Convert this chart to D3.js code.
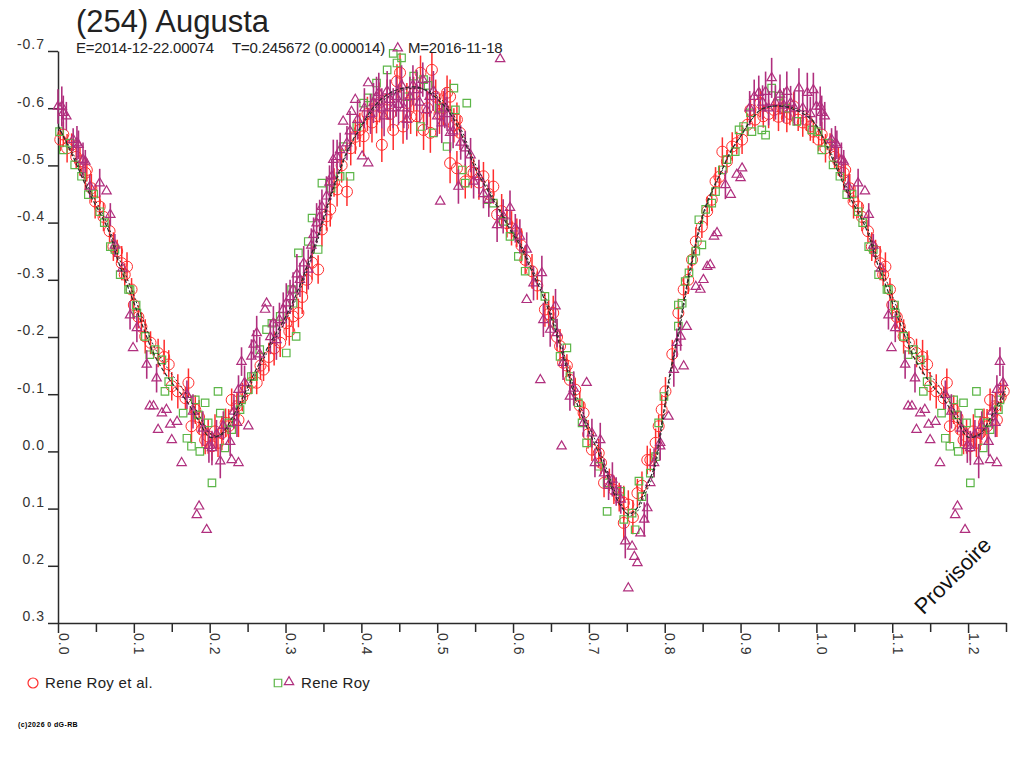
<!DOCTYPE html>
<html>
<head>
<meta charset="utf-8">
<script src="https://cdn.jsdelivr.net/npm/d3@7"></script>
<style>
  body { margin: 0; background: #fff; }
  svg { display: block; font-family: "Liberation Sans", Arial, sans-serif; }
</style>
</head>
<body>
<div id="chart"></div>
<script>
// Fourier fit of the lightcurve (phase 0..1, repeated past 1)
const fitPhase = [0, .02, .04, .066, .08, .097, .11, .128, .15, .1675, .185, .2, .215, .23, .242, .26, .28, .30, .319, .33,
  .341, .355, .368, .383, .398, .418, .438, .455, .473, .49, .508, .52, .535, .55, .565, .579, .595, .61, .623, .636,
  .65, .662, .673, .684, .698, .711, .722, .733, .742, .752, .763, .773, .785, .795, .807, .818, .834, .851, .862, .873,
  .887, .90, .913, .926, .94, .957, .972, .988];
const fitMag = [-0.570, -0.515, -0.455, -0.388, -0.33, -0.271, -0.225, -0.166, -0.12, -0.092, -0.055, -0.025, -0.03, -0.06, -0.09, -0.14, -0.19, -0.235, -0.29, -0.33,
  -0.37, -0.43, -0.48, -0.53, -0.565, -0.605, -0.627, -0.635, -0.637, -0.627, -0.606, -0.585, -0.545, -0.495, -0.46, -0.428, -0.39, -0.358, -0.32, -0.283,
  -0.235, -0.184, -0.135, -0.085, -0.04, -0.003, 0.035, 0.073, 0.095, 0.110, 0.100, 0.07, 0.032, -0.04, -0.137, -0.21, -0.323, -0.417, -0.455, -0.485,
  -0.525, -0.551, -0.578, -0.597, -0.603, -0.603, -0.597, -0.586];
const fitMagAlt = [-0.568, -0.520, -0.462, -0.395, -0.34, -0.283, -0.238, -0.180, -0.135, -0.104, -0.066, -0.032, -0.028, -0.052, -0.082, -0.133, -0.183, -0.228, -0.282, -0.322,
  -0.363, -0.424, -0.476, -0.527, -0.563, -0.600, -0.622, -0.632, -0.635, -0.630, -0.612, -0.592, -0.553, -0.503, -0.466, -0.432, -0.394, -0.363, -0.326, -0.290,
  -0.243, -0.193, -0.145, -0.095, -0.05, -0.012, 0.026, 0.066, 0.090, 0.112, 0.106, 0.078, 0.040, -0.03, -0.128, -0.202, -0.316, -0.412, -0.452, -0.483,
  -0.523, -0.550, -0.577, -0.596, -0.603, -0.604, -0.600, -0.590];

// Rene Roy et al. : [phase, mag, error]
const royEtAl = [
  [0.003,-0.545,0.02],[0.007,-0.554,0.022],[0.012,-0.53,0.025],[0.018,-0.536,0.02],[0.024,-0.515,0.02],[0.029,-0.507,0.025],
  [0.036,-0.487,0.03],[0.038,-0.492,0.02],[0.044,-0.46,0.025],[0.049,-0.437,0.03],[0.055,-0.428,0.02],[0.060,-0.41,0.025],
  [0.068,-0.385,0.02],[0.073,-0.358,0.025],[0.078,-0.35,0.02],[0.084,-0.329,0.03],[0.088,-0.309,0.02],[0.091,-0.323,0.025],
  [0.097,-0.283,0.02],[0.100,-0.256,0.025],
  [0.106,-0.235,0.02],[0.110,-0.218,0.025],[0.115,-0.201,0.03],[0.122,-0.19,0.02],[0.132,-0.172,0.025],[0.140,-0.165,0.03],
  [0.146,-0.152,0.025],[0.150,-0.114,0.025],[0.158,-0.105,0.03],[0.168,-0.093,0.02],[0.172,-0.12,0.025],[0.176,-0.044,0.03],
  [0.181,-0.073,0.025],[0.186,-0.06,0.03],[0.190,-0.038,0.03],[0.194,-0.02,0.025],[0.198,-0.026,0.03],[0.203,-0.009,0.025],
  [0.207,-0.035,0.03],[0.211,-0.015,0.025],[0.216,-0.032,0.03],[0.221,-0.05,0.025],[0.225,-0.044,0.03],[0.229,-0.09,0.02],
  [0.232,-0.065,0.025],[0.236,-0.079,0.025],[0.238,-0.055,0.03],[0.243,-0.095,0.025],[0.247,-0.105,0.02],[0.255,-0.12,0.02],
  [0.262,-0.12,0.02],[0.267,-0.15,0.025],[0.271,-0.143,0.02],[0.278,-0.165,0.025],[0.285,-0.18,0.03],[0.293,-0.19,0.025],
  [0.301,-0.224,0.03],[0.305,-0.21,0.025],[0.310,-0.236,0.03],[0.317,-0.242,0.025],[0.322,-0.27,0.03],[0.328,-0.3,0.025],
  [0.335,-0.33,0.03],[0.343,-0.318,0.025],[0.348,-0.388,0.03],[0.354,-0.411,0.025],[0.359,-0.423,0.03],[0.364,-0.47,0.025],
  [0.368,-0.458,0.03],[0.374,-0.5,0.03],[0.381,-0.454,0.025],[0.386,-0.53,0.03],[0.392,-0.55,0.03],[0.398,-0.562,0.03],
  [0.403,-0.551,0.035],[0.408,-0.59,0.03],[0.414,-0.575,0.035],[0.420,-0.586,0.03],[0.424,-0.61,0.035],[0.427,-0.536,0.03],
  [0.434,-0.615,0.035],[0.438,-0.59,0.03],[0.442,-0.562,0.035],[0.447,-0.647,0.03],[0.451,-0.662,0.035],[0.455,-0.568,0.03],
  [0.460,-0.609,0.035],[0.465,-0.585,0.03],[0.469,-0.625,0.03],[0.473,-0.586,0.035],[0.478,-0.662,0.03],[0.482,-0.562,0.035],
  [0.487,-0.6,0.03],[0.491,-0.557,0.035],[0.493,-0.667,0.03],[0.498,-0.62,0.03],[0.503,-0.59,0.035],[0.508,-0.6,0.03],
  [0.513,-0.627,0.03],[0.517,-0.504,0.035],[0.517,-0.62,0.03],[0.522,-0.57,0.03],[0.526,-0.58,0.03],[0.526,-0.495,0.03],
  [0.530,-0.557,0.03],[0.537,-0.472,0.03],
  [0.545,-0.49,0.03],[0.548,-0.487,0.025],[0.555,-0.47,0.03],[0.561,-0.481,0.025],[0.568,-0.45,0.025],[0.574,-0.463,0.03],
  [0.579,-0.414,0.025],[0.585,-0.42,0.03],[0.592,-0.399,0.025],[0.598,-0.39,0.03],[0.605,-0.382,0.025],[0.611,-0.36,0.03],
  [0.616,-0.335,0.025],[0.625,-0.315,0.03],[0.632,-0.29,0.025],[0.642,-0.248,0.03],[0.647,-0.24,0.025],[0.653,-0.242,0.03],
  [0.658,-0.2,0.025],[0.662,-0.184,0.03],[0.666,-0.155,0.025],[0.671,-0.15,0.02],[0.675,-0.125,0.025],[0.682,-0.108,0.02],
  [0.688,-0.08,0.025],[0.693,-0.067,0.02],[0.699,-0.03,0.025],[0.704,-0.003,0.02],[0.713,0.003,0.025],[0.716,0.02,0.02],
  [0.720,0.055,0.025],[0.727,0.05,0.02],[0.733,0.067,0.025],[0.740,0.08,0.025],[0.746,0.09,0.03],[0.746,0.125,0.03],
  [0.752,0.093,0.025],[0.758,0.115,0.03],[0.764,0.073,0.025],[0.770,0.06,0.025],[0.777,0.015,0.025],[0.781,0.015,0.02],
  [0.788,-0.015,0.025],[0.792,-0.044,0.02],[0.796,-0.073,0.025],[0.801,-0.105,0.025],
  [0.810,-0.17,0.025],[0.818,-0.242,0.025],[0.825,-0.283,0.02],[0.831,-0.3,0.025],[0.836,-0.335,0.02],[0.841,-0.367,0.025],
  [0.849,-0.393,0.02],[0.856,-0.42,0.025],[0.862,-0.44,0.02],[0.867,-0.472,0.025],[0.872,-0.48,0.02],[0.876,-0.524,0.025],
  [0.882,-0.507,0.02],[0.889,-0.533,0.025],[0.895,-0.539,0.02],[0.902,-0.545,0.025],[0.909,-0.571,0.02],[0.913,-0.597,0.025],
  [0.919,-0.58,0.02],[0.926,-0.609,0.025],[0.930,-0.586,0.02],[0.937,-0.59,0.025],[0.944,-0.597,0.02],[0.950,-0.585,0.025],
  [0.955,-0.6,0.02],[0.961,-0.583,0.025],[0.965,-0.59,0.02],[0.970,-0.603,0.025],[0.976,-0.58,0.02],[0.982,-0.575,0.025],
  [0.987,-0.58,0.02],[0.992,-0.568,0.025],[0.996,-0.559,0.02]
];

// Rene Roy, first session (squares) : [phase, mag]
const roySquares = [
  [0.002,-0.559],[0.007,-0.527],[0.016,-0.539],[0.022,-0.501],[0.031,-0.481],[0.040,-0.449],[0.047,-0.45],[0.055,-0.419],
  [0.061,-0.40],[0.069,-0.358],[0.075,-0.353],[0.082,-0.309],[0.093,-0.283],[0.095,-0.283],[0.103,-0.256],
  [0.104,-0.242],[0.115,-0.201],[0.121,-0.169],[0.128,-0.178],[0.137,-0.16],[0.141,-0.105],[0.146,-0.122],[0.165,-0.067],
  [0.170,-0.023],[0.176,-0.009],[0.181,-0.09],[0.185,-0.064],[0.187,0.0],[0.194,-0.085],[0.198,-0.05],[0.203,0.055],
  [0.211,-0.105],[0.214,-0.067],[0.220,-0.006],[0.225,-0.05],[0.229,-0.038],[0.240,-0.073],[0.242,-0.09],[0.251,-0.108],
  [0.255,-0.131],
  [0.258,-0.131],[0.266,-0.178],[0.275,-0.213],[0.282,-0.224],[0.293,-0.236],[0.301,-0.172],[0.308,-0.283],[0.310,-0.259],
  [0.314,-0.201],[0.317,-0.347],[0.330,-0.367],[0.335,-0.408],[0.343,-0.353],[0.348,-0.469],[0.360,-0.46],[0.372,-0.481],
  [0.376,-0.533],[0.385,-0.481],[0.394,-0.568],[0.403,-0.609],[0.409,-0.618],[0.420,-0.644],[0.434,-0.667],[0.442,-0.696],
  [0.447,-0.679],[0.453,-0.688],[0.460,-0.62],[0.469,-0.656],[0.478,-0.568],[0.482,-0.65],[0.488,-0.64],[0.495,-0.557],
  [0.503,-0.6],[0.513,-0.533],[0.522,-0.635],[0.524,-0.597],[0.533,-0.492],[0.537,-0.469],[0.539,-0.609],
  [0.566,-0.44],[0.574,-0.434],[0.587,-0.402],[0.596,-0.376],[0.607,-0.341],[0.616,-0.315],[0.642,-0.271],[0.653,-0.224],
  [0.662,-0.166],[0.671,-0.181],[0.675,-0.131],[0.686,-0.085],[0.691,-0.05],[0.697,-0.015],[0.713,0.026],[0.724,0.055],
  [0.724,0.105],[0.742,0.07],[0.746,0.119],[0.757,0.108],[0.761,0.137],[0.766,0.052],[0.770,0.079],[0.781,0.038],
  [0.788,0.009],[0.792,-0.05],[0.799,-0.096],
  [0.818,-0.219],[0.818,-0.256],[0.823,-0.259],[0.827,-0.297],[0.832,-0.312],[0.836,-0.335],[0.841,-0.35],[0.845,-0.405],
  [0.849,-0.361],[0.854,-0.423],[0.862,-0.434],[0.867,-0.454],[0.876,-0.492],[0.882,-0.51],[0.893,-0.524],[0.898,-0.562],
  [0.904,-0.568],[0.913,-0.592],[0.915,-0.559],[0.928,-0.562],[0.933,-0.553],[0.941,-0.635],[0.950,-0.621],[0.961,-0.6],
  [0.974,-0.577],[0.994,-0.562]
];

// Rene Roy, second session (triangles) : [phase, mag, error] (0 = no bar)
const royTriangles = [
  [0.000,-0.603,0.03],[0.005,-0.603,0.035],[0.007,-0.592,0.03],[0.011,-0.586,0.025],[0.020,-0.545,0.02],[0.025,-0.539,0.03],
  [0.027,-0.536,0.025],[0.033,-0.51,0.03],[0.036,-0.507,0.02],[0.042,-0.463,0.02],[0.055,-0.469,0.025],[0.064,-0.455,0],
  [0.069,-0.414,0.02],[0.075,-0.36,0.02],[0.085,-0.32,0],[0.095,-0.238,0.025],
  [0.099,-0.181,0],[0.104,-0.216,0.025],[0.117,-0.152,0.025],[0.121,-0.079,0],[0.126,-0.079,0],[0.130,-0.128,0.025],
  [0.132,-0.038,0],[0.137,-0.067,0],[0.143,-0.073,0],[0.148,-0.047,0],[0.150,-0.02,0],[0.157,-0.052,0],[0.163,0.02,0],
  [0.170,-0.099,0.025],[0.178,-0.07,0.03],[0.183,0.111,0],[0.186,0.096,0],[0.191,-0.04,0.03],[0.196,0.137,0],
  [0.199,-0.01,0.03],[0.203,-0.006,0.03],[0.209,-0.03,0.025],[0.214,0.017,0.03],[0.218,-0.045,0.025],[0.227,-0.017,0.025],
  [0.229,0.015,0],[0.232,-0.07,0.03],[0.236,-0.05,0.025],[0.238,0.02,0],[0.238,-0.108,0.025],[0.242,-0.157,0.025],
  [0.246,-0.12,0.03],[0.251,-0.044,0],[0.255,-0.166,0.03],[0.258,-0.187,0.025],
  [0.262,-0.207,0.03],[0.266,-0.17,0.03],[0.273,-0.248,0],[0.275,-0.259,0],[0.280,-0.2,0.03],[0.284,-0.224,0.03],
  [0.288,-0.195,0.035],[0.292,-0.23,0.03],[0.297,-0.248,0.03],[0.301,-0.259,0.035],[0.306,-0.27,0.03],[0.310,-0.283,0.03],
  [0.315,-0.31,0.035],[0.319,-0.30,0.03],[0.324,-0.329,0.03],[0.330,-0.318,0.035],[0.334,-0.36,0.03],[0.337,-0.379,0.03],
  [0.341,-0.399,0.035],[0.345,-0.41,0.03],[0.348,-0.428,0.03],[0.354,-0.446,0.035],[0.358,-0.47,0.03],[0.361,-0.481,0.03],
  [0.363,-0.51,0.035],[0.368,-0.515,0.03],[0.372,-0.527,0.03],[0.376,-0.577,0],[0.381,-0.539,0.03],[0.385,-0.56,0.035],
  [0.387,-0.594,0],[0.392,-0.615,0],[0.395,-0.58,0.035],[0.401,-0.516,0],[0.404,-0.6,0.035],[0.409,-0.644,0],
  [0.409,-0.504,0],[0.412,-0.59,0.035],[0.416,-0.609,0.035],[0.420,-0.62,0.035],[0.423,-0.627,0.035],[0.427,-0.6,0.035],
  [0.430,-0.586,0.035],[0.434,-0.63,0.035],[0.438,-0.615,0.035],[0.442,-0.6,0.035],[0.446,-0.62,0.035],[0.448,-0.705,0],
  [0.449,-0.606,0.035],[0.453,-0.64,0.035],[0.456,-0.6,0.035],[0.460,-0.58,0.035],[0.464,-0.62,0.035],[0.468,-0.64,0.035],
  [0.473,-0.632,0.035],[0.477,-0.61,0.035],[0.481,-0.65,0.03],[0.486,-0.597,0.035],[0.490,-0.62,0.035],[0.495,-0.63,0.035],
  [0.500,-0.586,0.035],[0.504,-0.437,0],[0.506,-0.574,0.035],[0.510,-0.6,0.035],[0.513,-0.59,0.03],[0.517,-0.557,0.035],
  [0.521,-0.56,0.03],[0.528,-0.463,0.03],[0.531,-0.54,0.03],
  [0.537,-0.53,0.03],[0.544,-0.518,0.03],[0.548,-0.472,0.03],[0.555,-0.48,0.03],[0.561,-0.45,0.025],[0.568,-0.44,0.03],
  [0.579,-0.396,0.03],[0.583,-0.686,0],[0.587,-0.411,0.03],[0.596,-0.426,0.03],[0.603,-0.39,0.025],[0.609,-0.376,0.03],
  [0.618,-0.353,0.03],[0.618,-0.265,0],[0.627,-0.294,0.03],[0.636,-0.125,0],[0.638,-0.312,0.03],[0.640,-0.23,0.03],
  [0.649,-0.213,0.03],[0.656,-0.254,0.03],[0.658,-0.207,0.025],[0.664,-0.009,0],[0.666,-0.155,0.03],[0.675,-0.096,0.025],
  [0.680,-0.11,0.03],[0.693,-0.05,0.025],[0.697,-0.12,0],[0.704,-0.032,0.025],[0.708,0.02,0.025],[0.715,-0.02,0.03],
  [0.720,0.038,0.025],[0.726,0.06,0.025],[0.731,0.049,0.03],[0.736,0.07,0.025],[0.742,0.084,0.025],[0.748,0.157,0.03],
  [0.752,0.239,0],[0.757,0.166,0],[0.760,0.184,0],[0.764,0.195,0],[0.768,0.143,0],[0.773,0.119,0.03],[0.777,0.099,0.025],
  [0.781,0.055,0],[0.786,0.02,0.025],[0.794,-0.009,0.025],[0.794,-0.015,0],[0.805,-0.061,0],
  [0.812,-0.143,0.03],[0.816,-0.19,0.025],[0.821,-0.201,0.025],[0.825,-0.149,0],[0.829,-0.218,0],[0.841,-0.288,0],
  [0.847,-0.283,0],[0.851,-0.30,0],[0.856,-0.323,0],[0.860,-0.326,0],[0.865,-0.376,0],[0.869,-0.382,0],[0.880,-0.466,0.025],
  [0.887,-0.449,0],[0.895,-0.484,0],[0.900,-0.478,0],[0.902,-0.495,0],[0.912,-0.6,0.03],[0.918,-0.62,0.03],[0.924,-0.627,0.03],
  [0.929,-0.61,0.03],[0.933,-0.629,0.035],[0.937,-0.6,0.03],[0.941,-0.653,0.035],[0.946,-0.61,0.03],[0.952,-0.624,0.035],
  [0.957,-0.605,0.03],[0.961,-0.629,0.035],[0.966,-0.609,0.03],[0.971,-0.6,0.03],[0.977,-0.635,0.035],[0.982,-0.6,0.03],
  [0.988,-0.627,0.035],[0.992,-0.59,0.03],[0.996,-0.632,0.03]
];

const yTicks = [-0.7, -0.6, -0.5, -0.4, -0.3, -0.2, -0.1, 0.0, 0.1, 0.2, 0.3];
const xMajor = [0, 0.1, 0.2, 0.3, 0.4, 0.5, 0.6, 0.7, 0.8, 0.9, 1.0, 1.1, 1.2];
const xMinor = [0.05, 0.15, 0.25, 0.35, 0.45, 0.55, 0.65, 0.75, 0.85, 0.95, 1.05, 1.15, 1.25];
const xLabels = ["0.0", "0.1", "0.2", "0.3", "0.4", "0.5", "0.6", "0.7", "0.8", "0.9", "1.0", "1.1", "1.2"];

const RED = "#ff2d2d", GREEN = "#5cb648", PURPLE = "#b02f7e", INK = "#2a2a2a";
const maxPhase = 1.25;

// phases below 0.25 are shown again after 1.0
function wrapPhase(rows, limit) {
    return rows.concat(rows.filter(r => r[0] + 1 <= limit).map(r => [r[0] + 1, ...r.slice(1)]));
}

const svg = d3.select("#chart").append("svg")
    .attr("width", 1024)
    .attr("height", 768);

const x = d3.scaleLinear().domain([0, maxPhase]).range([58, 1006]);
const y = d3.scaleLinear().domain([-0.7, 0.3]).range([51, 623]);

const fmt = d => (d < -1e-9 ? "-" : "") + Math.abs(d).toFixed(1);

// Y axis
const yAxis = svg.append("g")
    .attr("transform", "translate(58,0)")
    .call(d3.axisLeft(y).tickValues(yTicks).tickSize(10).tickSizeOuter(0).tickPadding(3).tickFormat(fmt));
yAxis.selectAll("text")
    .attr("dy", "-0.15em")
    .style("font-size", "14px")
    .style("letter-spacing", "1px")
    .attr("fill", "#333");

// X axis
const xAxis = svg.append("g")
    .attr("transform", "translate(0,623)")
    .call(d3.axisBottom(x).tickValues(xMajor).tickSize(10).tickSizeOuter(0).tickFormat((d, i) => xLabels[i]));
xAxis.selectAll(".tick text")
    .attr("transform", "rotate(90)")
    .attr("x", 10)
    .attr("y", 0)
    .attr("dy", "0")
    .style("text-anchor", "start")
    .style("font-size", "14px")
    .style("letter-spacing", "1px")
    .attr("fill", "#333");
svg.append("g")
    .attr("transform", "translate(0,623)")
    .call(d3.axisBottom(x).tickValues(xMinor).tickSize(9).tickSizeOuter(0).tickFormat(""))
    .select(".domain").remove();

svg.selectAll(".domain, .tick line").attr("stroke", INK).attr("stroke-width", 1.5);

const plot = svg.append("g");

// Rene Roy et al.
const redRows = wrapPhase(royEtAl, maxPhase);
plot.append("g").selectAll("line").data(redRows).join("line")
    .attr("x1", d => x(d[0])).attr("x2", d => x(d[0]))
    .attr("y1", d => y(d[1] - d[2])).attr("y2", d => y(d[1] + d[2]))
    .attr("stroke", RED).attr("stroke-width", 1.5);
plot.append("g").selectAll("circle").data(redRows).join("circle")
    .attr("cx", d => x(d[0])).attr("cy", d => y(d[1]))
    .attr("r", 5.5)
    .attr("fill", "none").attr("stroke", RED).attr("stroke-width", 1);

// Rene Roy squares
const square = d3.symbol().type(d3.symbolSquare).size(56);
plot.append("g").selectAll("path").data(wrapPhase(roySquares, maxPhase)).join("path")
    .attr("d", square)
    .attr("transform", d => `translate(${x(d[0])},${y(d[1])})`)
    .attr("fill", "none").attr("stroke", GREEN).attr("stroke-width", 1.2);

// Rene Roy triangles
const triRows = wrapPhase(royTriangles, maxPhase);
const triangle = d3.symbol().type(d3.symbolTriangle).size(38);
plot.append("g").selectAll("line").data(triRows.filter(d => d[2] > 0)).join("line")
    .attr("x1", d => x(d[0])).attr("x2", d => x(d[0]))
    .attr("y1", d => y(d[1] - d[2])).attr("y2", d => y(d[1] + d[2]))
    .attr("stroke", PURPLE).attr("stroke-width", 1.6);
plot.append("g").selectAll("path").data(triRows).join("path")
    .attr("d", triangle)
    .attr("transform", d => `translate(${x(d[0])},${y(d[1])})`)
    .attr("fill", "none").attr("stroke", PURPLE).attr("stroke-width", 1.2);

// fit curves
svg.append("clipPath").attr("id", "plotClip")
    .append("rect").attr("x", 58).attr("y", 40).attr("width", 948).attr("height", 583);
const fitLine = d3.line().x(d => x(d[0])).y(d => y(d[1])).curve(d3.curveCatmullRom);
const curves = svg.append("g").attr("clip-path", "url(#plotClip)");
curves.append("path")
    .attr("d", fitLine(wrapPhase(fitPhase.map((p, i) => [p, fitMag[i]]), 1.27)))
    .attr("fill", "none").attr("stroke", INK).attr("stroke-width", 1.2).attr("stroke-dasharray", "4,2");
curves.append("path")
    .attr("d", fitLine(wrapPhase(fitPhase.map((p, i) => [p, fitMagAlt[i]]), 1.27)))
    .attr("fill", "none").attr("stroke", INK).attr("stroke-width", 1).attr("stroke-dasharray", "2,2");

// titles
svg.append("text").attr("x", 76).attr("y", 32)
    .style("font-size", "31px").attr("fill", "#222")
    .text("(254) Augusta");
const sub = svg.append("g").style("font-size", "15px").style("letter-spacing", "-0.2px").attr("fill", "#222");
sub.append("text").attr("x", 76).attr("y", 53).text("E=2014-12-22.00074");
sub.append("text").attr("x", 232).attr("y", 53).text("T=0.245672 (0.000014)");
sub.append("text").attr("x", 408).attr("y", 53).text("M=2016-11-18");

// legend
const legend = svg.append("g").style("font-size", "15px").style("letter-spacing", "0.3px").attr("fill", "#222");
legend.append("circle").attr("cx", 33).attr("cy", 683).attr("r", 5)
    .attr("fill", "none").attr("stroke", RED).attr("stroke-width", 1.2);
legend.append("text").attr("x", 45).attr("y", 688).text("Rene Roy et al.");
legend.append("path").attr("d", square).attr("transform", "translate(278,683)")
    .attr("fill", "none").attr("stroke", GREEN).attr("stroke-width", 1.2);
legend.append("path").attr("d", triangle).attr("transform", "translate(289,682)")
    .attr("fill", "none").attr("stroke", PURPLE).attr("stroke-width", 1.2);
legend.append("text").attr("x", 301).attr("y", 688).text("Rene Roy");

svg.append("text").attr("transform", "translate(958,581) rotate(-45)")
    .attr("text-anchor", "middle")
    .style("font-size", "22px").attr("fill", "#111")
    .text("Provisoire");

svg.append("text").attr("x", 18).attr("y", 727)
    .style("font-size", "7px").style("font-weight", "bold").style("letter-spacing", "0.4px").attr("fill", "#000")
    .text("(c)2026 0 dG-RB");
</script>
</body>
</html>
